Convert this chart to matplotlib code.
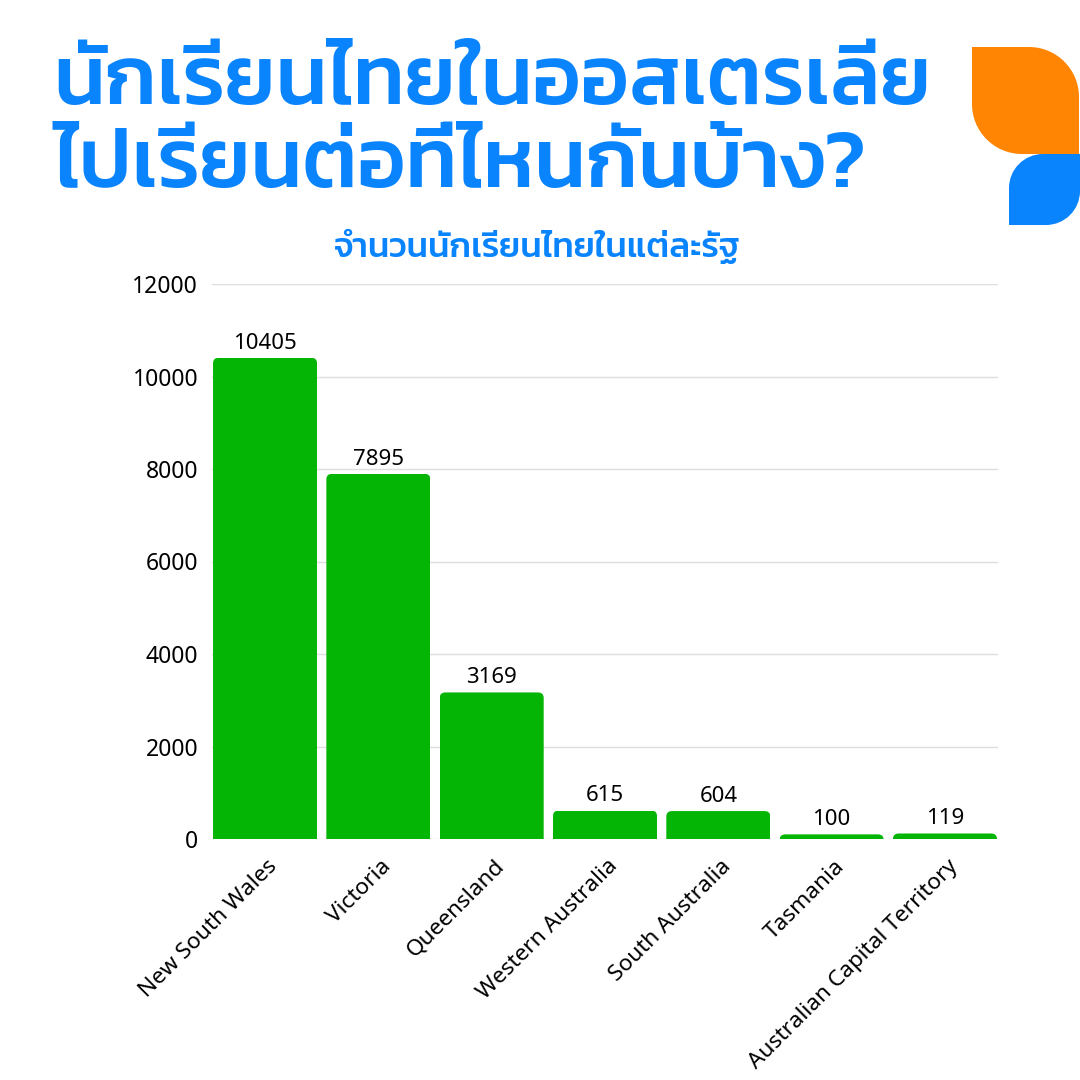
import matplotlib
matplotlib.use('Agg')
import matplotlib.pyplot as plt
from matplotlib.patches import FancyBboxPatch, PathPatch
from matplotlib.path import Path
from matplotlib.transforms import ScaledTranslation

states = ['New South Wales', 'Victoria', 'Queensland', 'Western Australia',
          'South Australia', 'Tasmania', 'Australian Capital Territory']
students = [10405, 7895, 3169, 615, 604, 100, 119]
y_ticks = [0, 2000, 4000, 6000, 8000, 10000, 12000]
title_lines = ['นักเรียนไทยในออสเตรเลีย', 'ไปเรียนต่อที่ไหนกันบ้าง?']
subtitle = 'จำนวนนักเรียนไทยในแต่ละรัฐ'

BLUE = '#0A84FD'
ORANGE = '#FF8503'
GREEN = '#05B505'
THAI = ['Kanit', 'Noto Sans']
W = H = 1080

plt.rcParams['font.family'] = ['Noto Sans', 'DejaVu Sans']
fig = plt.figure(figsize=(W / 100, H / 100), dpi=100, facecolor='white')


def fx(x):
    return x / W


def fy(y):
    return 1 - y / H


ax = fig.add_axes([fx(212), fy(839), (998 - 212) / W, (839 - 284) / H])
ax.set_xlim(-0.468, 6.468)
ax.set_ylim(0, 12000)
for s in ax.spines.values():
    s.set_visible(False)
ax.set_axisbelow(True)
ax.yaxis.grid(True, color='#DEDEDE', linewidth=1.0)
ax.xaxis.grid(False)
ax.set_yticks(y_ticks)
ax.tick_params(axis='y', length=0, pad=10, labelsize=16.5, labelcolor='black')
ax.tick_params(axis='x', length=0, labelsize=16.3, labelcolor='black', pad=12)

bars = ax.bar(range(len(states)), students, width=0.918, color=GREEN, linewidth=0)
for rect, v in zip(bars, students):
    clip = FancyBboxPatch((rect.get_x(), -600), rect.get_width(), v + 600,
                          boxstyle='round,pad=0,rounding_size=0.05',
                          mutation_aspect=2400, transform=ax.transData)
    rect.set_clip_path(clip)
    ax.annotate(str(v), (rect.get_x() + rect.get_width() / 2, v), xytext=(0, 3),
                textcoords='offset points', ha='center', va='bottom',
                fontsize=16, color='black')

ax.set_xticks(range(len(states)))
ax.set_xticklabels(states, rotation=45, ha='right', rotation_mode='anchor')
shift = ScaledTranslation(2 / 100, 0, fig.dpi_scale_trans)
for lab in ax.get_xticklabels():
    lab.set_transform(lab.get_transform() + shift)

TITLE_STYLE = dict(family=THAI, weight='medium', fontsize=60.3, color=BLUE,
                   ha='left', va='baseline')
fig.text(fx(53), fy(104), title_lines[0], **TITLE_STYLE)
fig.text(fx(53), fy(187), title_lines[1], **TITLE_STYLE)
fig.text(fx(537.5), fy(257), subtitle, family=THAI, weight='medium', fontsize=25.0,
         color=BLUE, ha='center', va='baseline')


def leaf_tr_bl(x0, y0, x1, y1, r, color):
    k = 0.5523 * r
    verts = [(x0, y0), (x1 - r, y0), (x1 - r + k, y0), (x1, y0 + r - k), (x1, y0 + r),
             (x1, y1), (x0 + r, y1), (x0 + r - k, y1), (x0, y1 - r + k), (x0, y1 - r),
             (x0, y0)]
    codes = [Path.MOVETO, Path.LINETO, Path.CURVE4, Path.CURVE4, Path.CURVE4,
             Path.LINETO, Path.LINETO, Path.CURVE4, Path.CURVE4, Path.CURVE4,
             Path.CLOSEPOLY]
    path = Path([(fx(a), fy(b)) for a, b in verts], codes)
    fig.add_artist(PathPatch(path, transform=fig.transFigure, facecolor=color,
                             edgecolor='none'))


def leaf_tl_br(x0, y0, x1, y1, r, color):
    k = 0.5523 * r
    verts = [(x0 + r, y0), (x1, y0), (x1, y1 - r), (x1, y1 - r + k), (x1 - r + k, y1),
             (x1 - r, y1), (x0, y1), (x0, y0 + r), (x0, y0 + r - k), (x0 + r - k, y0),
             (x0 + r, y0)]
    codes = [Path.MOVETO, Path.LINETO, Path.LINETO, Path.CURVE4, Path.CURVE4,
             Path.CURVE4, Path.LINETO, Path.LINETO, Path.CURVE4, Path.CURVE4, Path.CURVE4]
    path = Path([(fx(a), fy(b)) for a, b in verts], codes)
    fig.add_artist(PathPatch(path, transform=fig.transFigure, facecolor=color,
                             edgecolor='none'))


leaf_tr_bl(972, 47, 1079, 154, 50, ORANGE)
leaf_tl_br(1009, 154, 1080, 225, 34, BLUE)

fig.savefig('out.png', dpi=100, facecolor='white')
